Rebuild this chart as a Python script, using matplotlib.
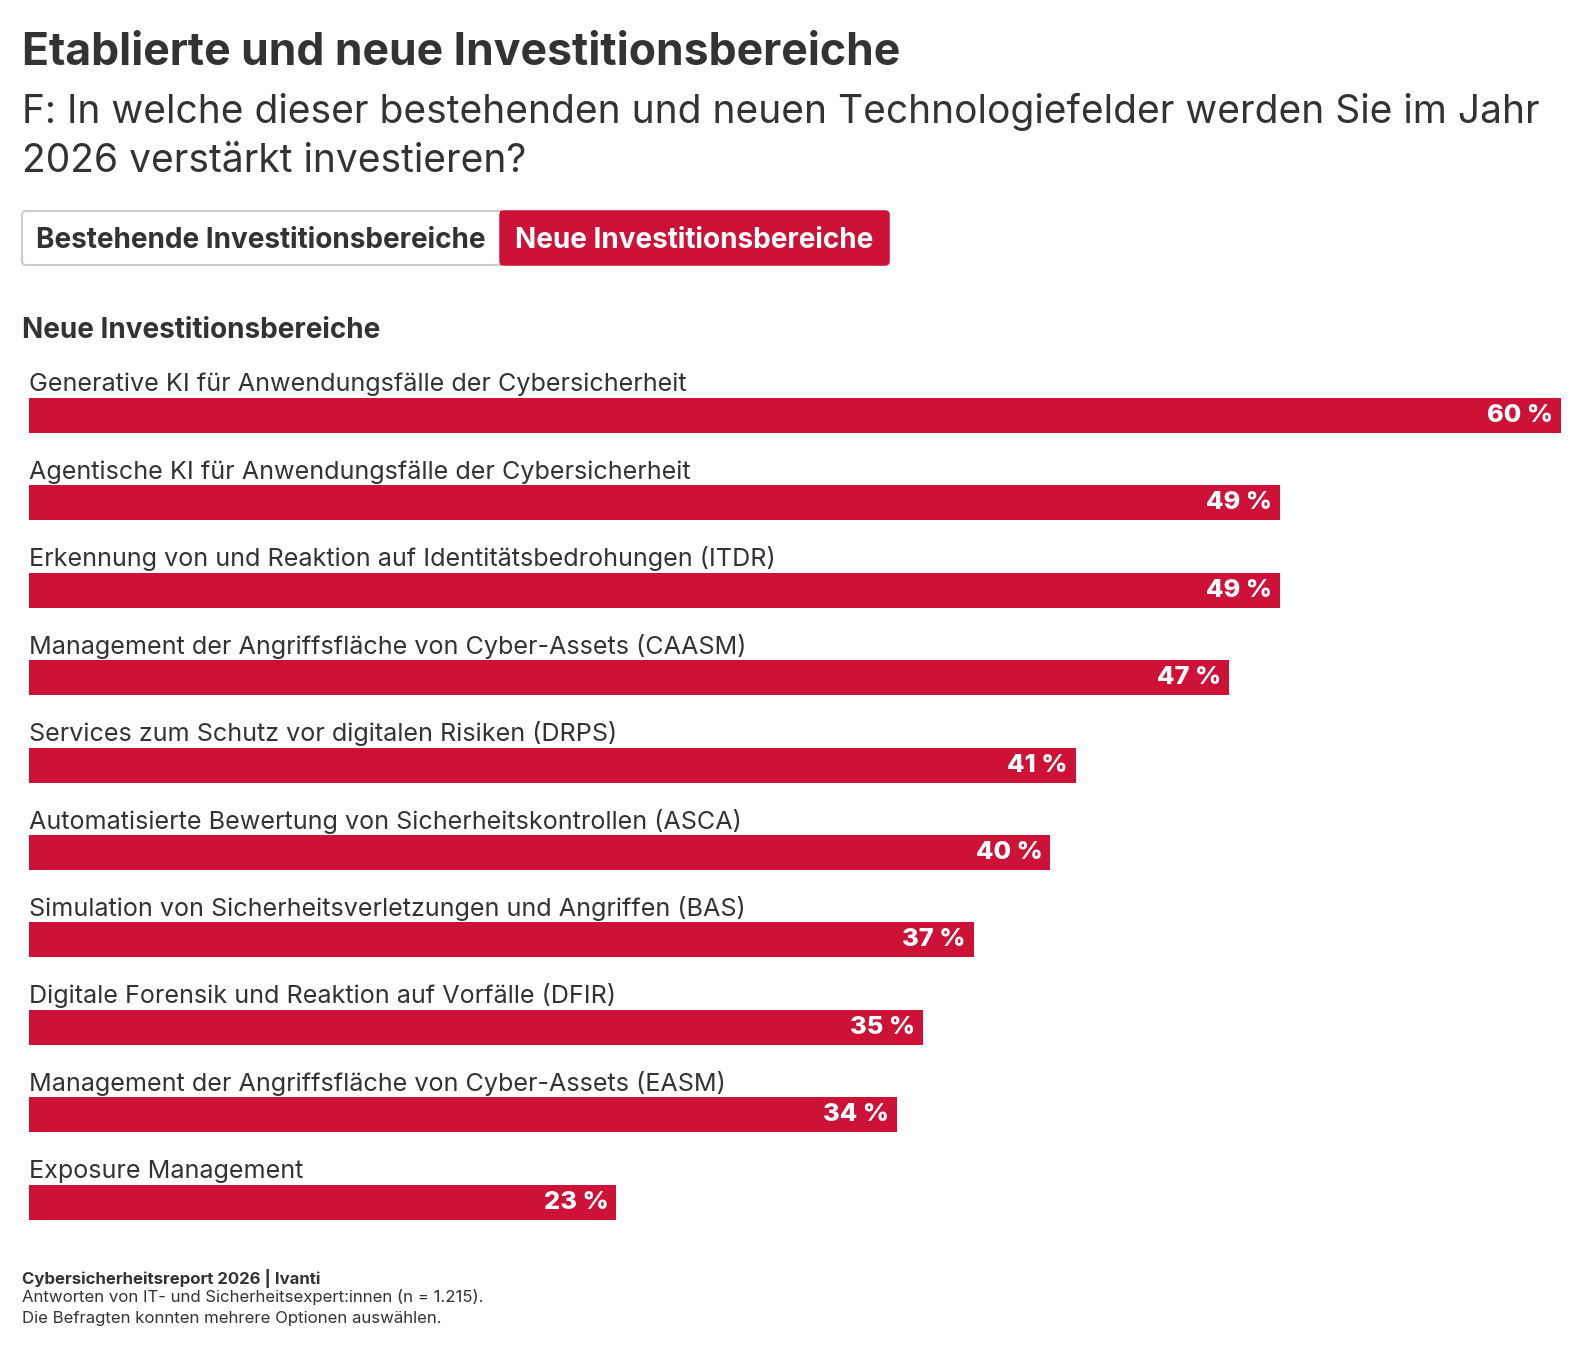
import matplotlib.pyplot as plt
from matplotlib.patches import FancyBboxPatch, Rectangle

# Daten
kategorien = [
    "Generative KI für Anwendungsfälle der Cybersicherheit",
    "Agentische KI für Anwendungsfälle der Cybersicherheit",
    "Erkennung von und Reaktion auf Identitätsbedrohungen (ITDR)",
    "Management der Angriffsfläche von Cyber-Assets (CAASM)",
    "Services zum Schutz vor digitalen Risiken (DRPS)",
    "Automatisierte Bewertung von Sicherheitskontrollen (ASCA)",
    "Simulation von Sicherheitsverletzungen und Angriffen (BAS)",
    "Digitale Forensik und Reaktion auf Vorfälle (DFIR)",
    "Management der Angriffsfläche von Cyber-Assets (EASM)",
    "Exposure Management",
]
werte = [60, 49, 49, 47, 41, 40, 37, 35, 34, 23]

titel = "Etablierte und neue Investitionsbereiche"
untertitel_1 = "F: In welche dieser bestehenden und neuen Technologiefelder werden Sie im Jahr"
untertitel_2 = "2026 verstärkt investieren?"
tab_links = "Bestehende Investitionsbereiche"
tab_rechts = "Neue Investitionsbereiche"
abschnitt = "Neue Investitionsbereiche"
quelle = "Cybersicherheitsreport 2026 | Ivanti"
fussnote_1 = "Antworten von IT- und Sicherheitsexpert:innen (n = 1.215)."
fussnote_2 = "Die Befragten konnten mehrere Optionen auswählen."

ROT = "#CE1137"
TEXT = "#333333"
W, H = 1588, 1348

plt.rcParams["font.family"] = ["Inter", "DejaVu Sans"]

fig = plt.figure(figsize=(W / 100, H / 100), dpi=100)
fig.patch.set_facecolor("white")

# Hintergrund-Achse in Pixelkoordinaten
bg = fig.add_axes([0, 0, 1, 1])
bg.set_xlim(0, W)
bg.set_ylim(H, 0)
bg.axis("off")

bg.text(22, 65, titel, fontsize=32.1, fontweight="bold", color=TEXT, va="baseline")
bg.text(22, 123, untertitel_1, fontsize=28.05, color=TEXT, va="baseline")
bg.text(22, 172, untertitel_2, fontsize=28.05, color=TEXT, va="baseline")

# Tabs
bg.add_patch(FancyBboxPatch((22, 211), 867, 54, boxstyle="round,pad=0,rounding_size=4",
                            facecolor="white", edgecolor="#CCCCCC", linewidth=1.5))
bg.add_patch(FancyBboxPatch((500, 211), 389, 54, boxstyle="round,pad=0,rounding_size=4",
                            facecolor=ROT, edgecolor=ROT, linewidth=1))
bg.add_patch(Rectangle((500, 211), 12, 54, facecolor=ROT, edgecolor="none"))
bg.text(261, 241, tab_links, fontsize=20.1, fontweight="bold", color=TEXT,
        ha="center", va="center")
bg.text(694.5, 241, tab_rechts, fontsize=20.1, fontweight="bold", color="white",
        ha="center", va="center")

bg.text(22, 330, abschnitt, fontsize=20.1, fontweight="bold", color=TEXT, va="center")

# Fußzeile
bg.text(22, 1278, quelle, fontsize=12.1, fontweight="bold", color=TEXT, va="center")
bg.text(22, 1297, fussnote_1, fontsize=12.05, color=TEXT, va="center")
bg.text(22, 1318, fussnote_2, fontsize=12.05, color=TEXT, va="center")

# Balken
top_px, bot_px = 360, 1240
step, first, bar_h = 87.4, 415.5, 35
ax = fig.add_axes([29 / W, 1 - bot_px / H, 1532 / W, (bot_px - top_px) / H])
ax.set_xlim(0, 60)
ax.set_ylim((bot_px - first) / step, (top_px - first) / step)
ax.axis("off")

pos = list(range(len(werte)))
ax.barh(pos, werte, height=bar_h / step, color=ROT)
for i, (k, v) in enumerate(zip(kategorien, werte)):
    ax.text(0, i - 24 / step, k, fontsize=18.1, color=TEXT,
            ha="left", va="baseline")
    ax.text(v - 8 / 25.5, i, f"{v} %", fontsize=18.3, fontweight="heavy", color="white",
            ha="right", va="center")

fig.savefig("out.png", dpi=100, facecolor="white")
